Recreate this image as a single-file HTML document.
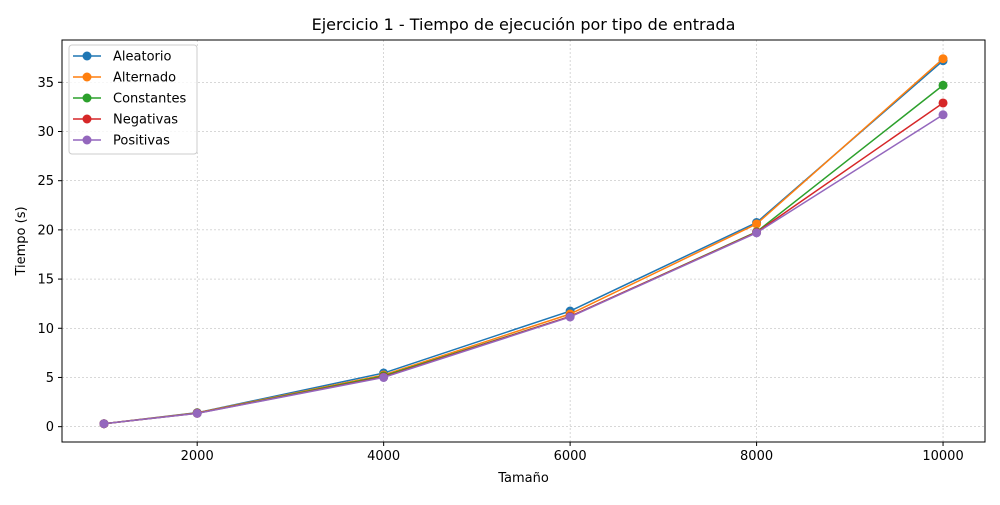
<!DOCTYPE html>
<html><head><meta charset="utf-8"><style>
body{margin:0;background:#fff;font-family:"Liberation Sans","DejaVu Sans",sans-serif}
svg text{font-family:"DejaVu Sans","Liberation Sans",sans-serif}
</style></head><body>
<svg id="c" width="1000" height="500" xmlns="http://www.w3.org/2000/svg"></svg>
<script>
const sizes=[1000,2000,4000,6000,8000,10000];
const seriesNames=["Aleatorio","Alternado","Constantes","Negativas","Positivas"];
const colors=["#1f77b4","#ff7f0e","#2ca02c","#d62728","#9467bd"];
const aleatorio=[0.3,1.42,5.45,11.75,20.75,37.2];
const alternado=[0.3,1.4,5.25,11.45,20.6,37.4];
const constantes=[0.3,1.37,5.15,11.2,19.8,34.7];
const negativas=[0.3,1.36,5.05,11.2,19.75,32.9];
const positivas=[0.3,1.35,5.0,11.15,19.7,31.7];
const series=[aleatorio,alternado,constantes,negativas,positivas];
const xTicks=[2000,4000,6000,8000,10000];
const yTicks=[0,5,10,15,20,25,30,35];
const L=62,R=985,T=40,B=442;
const xmin=550,xmax=10450,ymin=-1.56,ymax=39.3;
const X=v=>L+(v-xmin)/(xmax-xmin)*(R-L);
const Y=v=>B-(v-ymin)/(ymax-ymin)*(B-T);
const svg=document.getElementById('c');const NS="http://www.w3.org/2000/svg";
function el(t,a,p){const e=document.createElementNS(NS,t);for(const k in a)e.setAttribute(k,a[k]);(p||svg).appendChild(e);return e;}
xTicks.forEach(v=>{const x=X(v);
const g=el('line',{x1:x,x2:x,y1:T,y2:B,stroke:'#b0b0b0','stroke-width':0.5,'stroke-dasharray':'2,2'});

el('line',{x1:x,x2:x,y1:B,y2:B+4,stroke:'#000'});
const t=el('text',{x:x,y:B+18,'text-anchor':'middle','font-size':13});t.textContent=v;
});
yTicks.forEach(v=>{const y=Y(v);
const g=el('line',{x1:L,x2:R,y1:y,y2:y,stroke:'#b0b0b0','stroke-width':0.5,'stroke-dasharray':'2,2'});

el('line',{x1:L-4,x2:L,y1:y,y2:y,stroke:'#000'});
const t=el('text',{x:L-8,y:y+4.5,'text-anchor':'end','font-size':13});t.textContent=v;
});
series.forEach((s,i)=>{
const p=el('polyline',{points:s.map((v,j)=>X(sizes[j])+','+Y(v)).join(' '),fill:'none',stroke:colors[i],'stroke-width':1.5});

s.forEach((v,j)=>{const c=el('circle',{cx:X(sizes[j]),cy:Y(v),r:4.5,fill:colors[i]});
});});
const fr=el('rect',{x:L,y:T,width:R-L,height:B-T,fill:'none',stroke:'#000','stroke-width':1});

const tt=el('text',{x:(L+R)/2,y:30,'text-anchor':'middle','font-size':16});tt.textContent='Ejercicio 1 - Tiempo de ejecución por tipo de entrada';

const xl=el('text',{x:(L+R)/2,y:482,'text-anchor':'middle','font-size':13});xl.textContent='Tamaño';

const yl=el('text',{x:0,y:0,'text-anchor':'middle','font-size':13,transform:'translate(25,'+((T+B)/2)+') rotate(-90)'});yl.textContent='Tiempo (s)';

const lg=el('g',{});
el('rect',{x:69,y:45,width:128,height:109,rx:3,fill:'#fff','fill-opacity':0.8,stroke:'#ccc'},lg);
seriesNames.forEach((n,i)=>{const y=56+i*21;
const g=el('g',{},lg);
el('line',{x1:73,x2:101,y1:y,y2:y,stroke:colors[i],'stroke-width':1.5},g);
el('circle',{cx:87,cy:y,r:4.5,fill:colors[i]},g);
const t=el('text',{x:113,y:y+4.5,'font-size':13},g);t.textContent=n;});
</script>
</body></html>
